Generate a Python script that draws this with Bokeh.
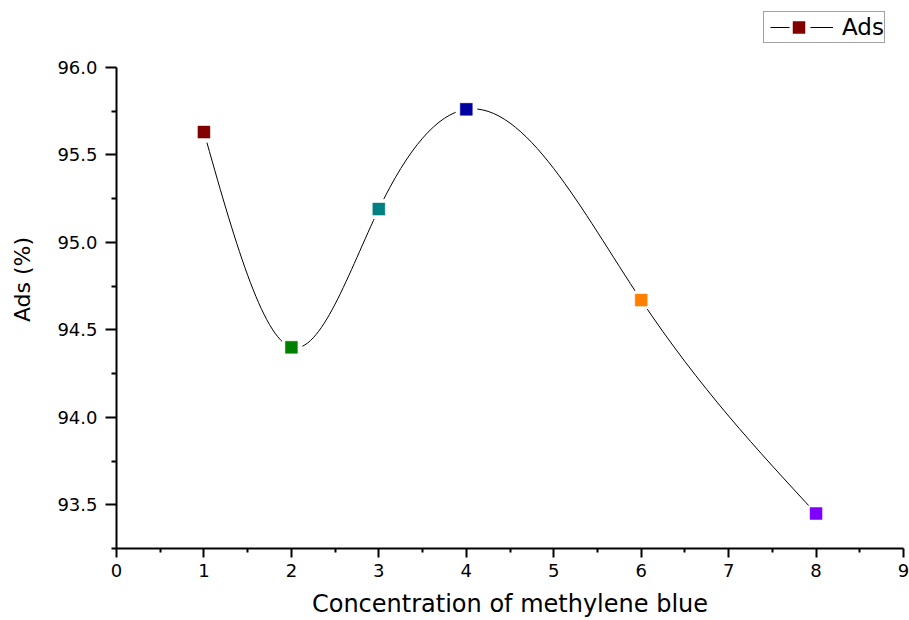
import numpy as np
from bokeh.plotting import figure
from bokeh.models import (Range1d, FixedTicker, Legend, LegendItem, ColumnDataSource,
                          NumeralTickFormatter)
from bokeh.embed import file_html
from bokeh.resources import INLINE

# ---- data ----
conc = [1, 2, 3, 4, 6, 8]
ads = [95.63, 94.40, 95.19, 95.76, 94.67, 93.45]
colors = ["#800000", "#008000", "#008080", "#0000A0", "#FF8000", "#8000FF"]
x_ticks = [0, 1, 2, 3, 4, 5, 6, 7, 8, 9]
y_ticks = [93.5, 94.0, 94.5, 95.0, 95.5, 96.0]

FONT = "DejaVu Sans"

p = figure(width=909, height=620, output_backend="svg", toolbar_location=None,
           x_range=Range1d(0, 9), y_range=Range1d(93.25, 96.325),
           min_border_left=116, min_border_right=6, min_border_top=10, min_border_bottom=71)
p.outline_line_color = None
p.grid.grid_line_color = None
p.background_fill_color = "white"
p.border_fill_color = "white"

# ---- smooth connecting curve (natural cubic spline rendered as Bezier segments) ----
x = np.array(conc, dtype=float)
y = np.array(ads, dtype=float)
n = len(x)
h = np.diff(x)
A = np.zeros((n, n))
b = np.zeros(n)
A[0, 0] = 1
A[-1, -1] = 1
for i in range(1, n - 1):
    A[i, i - 1] = h[i - 1]
    A[i, i] = 2 * (h[i - 1] + h[i])
    A[i, i + 1] = h[i]
    b[i] = 6 * ((y[i + 1] - y[i]) / h[i] - (y[i] - y[i - 1]) / h[i - 1])
M = np.linalg.solve(A, b)
x0s, y0s, x1s, y1s, cx0, cy0, cx1, cy1 = [], [], [], [], [], [], [], []
for i in range(n - 1):
    hi = h[i]
    s = (y[i + 1] - y[i]) / hi
    d0 = s - hi * (2 * M[i] + M[i + 1]) / 6
    d1 = s + hi * (M[i] + 2 * M[i + 1]) / 6
    x0s.append(x[i]); y0s.append(y[i]); x1s.append(x[i + 1]); y1s.append(y[i + 1])
    cx0.append(x[i] + hi / 3); cy0.append(y[i] + d0 * hi / 3)
    cx1.append(x[i + 1] - hi / 3); cy1.append(y[i + 1] - d1 * hi / 3)
p.bezier(x0=x0s, y0=y0s, x1=x1s, y1=y1s, cx0=cx0, cy0=cy0, cx1=cx1, cy1=cy1,
         line_color="black", line_width=1)

src = ColumnDataSource(dict(x=conc, y=ads, c=colors))
gap = p.scatter("x", "y", source=src, marker="circle", size=22,
                fill_color="white", line_color=None)
sq = p.scatter("x", "y", source=src, marker="square", size=12,
               fill_color="c", line_color="c", line_width=0.5)

# legend proxy line (not visible in the plot area); dashes leave a gap round the marker
lg_line = p.line([np.nan, np.nan], [np.nan, np.nan], line_color="black", line_width=1,
                 line_dash="0 6 19 21 23")

legend = Legend(items=[LegendItem(label="Ads", renderers=[lg_line, sq], index=0)],
                location=(647, 505), padding=0, margin=0, spacing=0,
                glyph_width=69, glyph_height=30, label_height=30, label_standoff=9,
                label_text_font=FONT, label_text_font_size="23px", label_text_color="black",
                border_line_color="#444444", border_line_width=1,
                background_fill_color="white", background_fill_alpha=1)
p.add_layout(legend, "center")

# ---- axes ----
p.xaxis.ticker = FixedTicker(ticks=x_ticks, minor_ticks=[v + 0.5 for v in x_ticks[:-1]])
p.yaxis.ticker = FixedTicker(ticks=y_ticks, minor_ticks=[93.25] + [v + 0.25 for v in y_ticks[:-1]])
p.yaxis.formatter = NumeralTickFormatter(format="0.0")
p.yaxis.bounds = (93.25, 96.0)

for ax in (p.xaxis, p.yaxis):
    ax.axis_line_width = 2
    ax.axis_line_color = "black"
    ax.major_tick_line_width = 2
    ax.minor_tick_line_width = 2
    ax.major_tick_line_color = "black"
    ax.minor_tick_line_color = "black"
    ax.major_tick_in = 0
    ax.minor_tick_in = 0
    ax.major_label_text_font = FONT
    ax.major_label_text_font_size = "18px"
    ax.major_label_text_color = "black"
    ax.axis_label_text_font = FONT
    ax.axis_label_text_font_size = "24px"
    ax.axis_label_text_font_style = "normal"
    ax.axis_label_text_color = "black"

p.yaxis.axis_label_text_font_size = "22px"
p.xaxis.major_tick_out = 9
p.xaxis.minor_tick_out = 4
p.yaxis.major_tick_out = 11
p.yaxis.minor_tick_out = 5
p.xaxis.major_label_standoff = 6
p.yaxis.major_label_standoff = 8
p.xaxis.axis_label = "Concentration of methylene blue"
p.yaxis.axis_label = "Ads (%)"
p.xaxis.axis_label_standoff = 10
p.yaxis.axis_label_standoff = 19

open("out.html", "w").write(file_html(p, INLINE))
